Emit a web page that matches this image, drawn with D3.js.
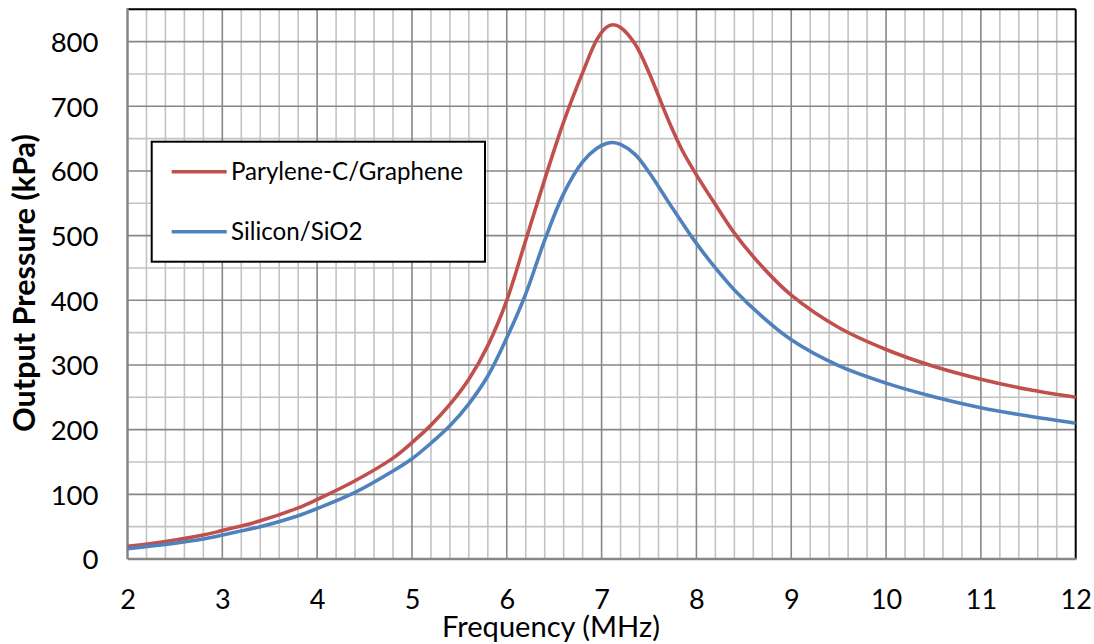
<!DOCTYPE html>
<html><head><meta charset="utf-8">
<script src="https://cdn.jsdelivr.net/npm/d3@7/dist/d3.min.js"></script>
<style>
html,body{margin:0;padding:0;background:#fff;}
text{font-family:Lato,"Open Sans",sans-serif;fill:#000;}
</style></head>
<body>
<svg id="chart" width="1094" height="644"></svg>
<script>
const freq = [2, 2.4, 2.8, 3, 3.4, 3.8, 4, 4.4, 4.8, 5, 5.2, 5.4, 5.6, 5.8, 6, 6.2, 6.4, 6.6, 6.8, 6.95, 7.05, 7.12, 7.2, 7.35, 7.5, 7.7, 7.85, 8, 8.2, 8.4, 8.7, 9, 9.5, 10, 10.5, 11, 11.5, 12];
const paryleneGraphene = [19.5, 27, 37, 44, 59, 79, 92, 121, 156, 180, 207, 239, 278, 330, 400, 493, 587, 676, 752, 803, 822, 826, 822, 797, 752, 680, 632, 594, 548, 504, 451, 408, 358, 324, 298, 278, 262, 250];
const siliconSiO2 = [16, 22.5, 31, 37, 50, 67, 78, 103, 136, 155, 179, 206, 240, 283, 342, 410, 493, 565, 614, 635, 642.5, 644, 641, 626, 598, 553, 520, 488, 450, 416, 374, 339, 299, 272, 251, 234, 221, 210];
const seriesNames = ["Parylene-C/Graphene", "Silicon/SiO2"];
const seriesColors = ["#c0504d", "#4f81bd"];
const xTicks = [2, 3, 4, 5, 6, 7, 8, 9, 10, 11, 12];
const yTicks = [0, 100, 200, 300, 400, 500, 600, 700, 800];

const svg = d3.select("#chart");
const L = 127.5, R = 1075.7, T = 9.3, B = 559;
const x = d3.scaleLinear().domain([2, 12]).range([L, R]);
const y = d3.scaleLinear().domain([0, 850]).range([B, T]);

function fitWidth(sel, target, base) {
  sel.attr("font-size", base);
  const w = sel.node().getComputedTextLength();
  if (w > 0) sel.attr("font-size", base * target / w);
}

// minor grid
const xMinor = d3.range(2, 12.0001, 0.2).filter(v => Math.abs(v - Math.round(v)) > 1e-6);
const yMinor = d3.range(50, 851, 100);
const g = svg.append("g");
g.selectAll(".vmin").data(xMinor).enter().append("line")
  .attr("x1", d => x(d)).attr("x2", d => x(d)).attr("y1", T).attr("y2", B)
  .attr("stroke", "#c3c3c3").attr("stroke-width", 1.6);
g.selectAll(".hmin").data(yMinor).enter().append("line")
  .attr("x1", L).attr("x2", R).attr("y1", d => y(d)).attr("y2", d => y(d))
  .attr("stroke", "#c3c3c3").attr("stroke-width", 1.6);
// major grid
g.selectAll(".vmaj").data(xTicks.slice(1, -1)).enter().append("line")
  .attr("x1", d => x(d)).attr("x2", d => x(d)).attr("y1", T).attr("y2", B)
  .attr("stroke", "#878787").attr("stroke-width", 1.6);
g.selectAll(".hmaj").data(yTicks.slice(1)).enter().append("line")
  .attr("x1", L).attr("x2", R).attr("y1", d => y(d)).attr("y2", d => y(d))
  .attr("stroke", "#878787").attr("stroke-width", 1.6);

// plot border top/right
svg.append("line").attr("x1", L).attr("x2", R).attr("y1", T).attr("y2", T).attr("stroke", "#000").attr("stroke-width", 2);
svg.append("line").attr("x1", R).attr("x2", R).attr("y1", T).attr("y2", B).attr("stroke", "#000").attr("stroke-width", 2);
// axes lines
svg.append("line").attr("x1", L).attr("x2", L).attr("y1", T - 1).attr("y2", B).attr("stroke", "#868686").attr("stroke-width", 2.5);
svg.append("line").attr("x1", L).attr("x2", R + 1).attr("y1", B).attr("y2", B).attr("stroke", "#868686").attr("stroke-width", 2.5);

// axes labels via d3 axes
const xAxis = d3.axisBottom(x).tickValues(xTicks).tickSize(0).tickPadding(0).tickFormat(d3.format("d"));
const xa = svg.append("g").attr("transform", `translate(0,${B})`).call(xAxis);
xa.select(".domain").remove();
xa.selectAll("text").attr("font-size", 27).attr("font-family", "Lato").attr("fill", "#000")
  .attr("dy", null).attr("y", 50);
const yAxis = d3.axisLeft(y).tickValues(yTicks).tickSize(0).tickPadding(0).tickFormat(d3.format("d"));
const ya = svg.append("g").attr("transform", `translate(${L - 29},0)`).call(yAxis);
ya.select(".domain").remove();
ya.selectAll("text").attr("font-size", 27.5).attr("font-family", "Lato").attr("fill", "#000")
  .attr("dy", "0.36em");

// series lines
const line = d3.line().x(d => x(d[0])).y(d => y(d[1])).curve(d3.curveCatmullRom.alpha(0.5));
[paryleneGraphene, siliconSiO2].forEach((vals, i) => {
  svg.append("path").datum(freq.map((f, j) => [f, vals[j]]))
    .attr("d", line).attr("fill", "none").attr("stroke", seriesColors[i])
    .attr("stroke-width", 3.6).attr("stroke-linejoin", "round");
});

// axis titles
const xt = svg.append("text").attr("x", 551).attr("y", 637).attr("text-anchor", "middle")
  .text("Frequency (MHz)");
fitWidth(xt, 218, 26);
const yt = svg.append("text").attr("transform", "translate(35,283) rotate(-90)").attr("text-anchor", "middle")
  .attr("font-weight", "bold").text("Output Pressure (kPa)");
fitWidth(yt, 298, 26);

// legend
const lg = svg.append("g");
lg.append("rect").attr("x", 151.7).attr("y", 141.7).attr("width", 333.3).attr("height", 120)
  .attr("fill", "#fff").attr("stroke", "#000").attr("stroke-width", 2);
const legY = [171.7, 231.7];
seriesNames.forEach((n, i) => {
  lg.append("line").attr("x1", 171.7).attr("x2", 226.7).attr("y1", legY[i]).attr("y2", legY[i])
    .attr("stroke", seriesColors[i]).attr("stroke-width", 3.6);
  const t = lg.append("text").attr("x", 231).attr("y", legY[i]).attr("dy", "0.36em").text(n);
  if (i === 0) fitWidth(t, 232, 23);
  else t.attr("font-size", lg.select("text").attr("font-size"));
});
</script>
</body></html>
